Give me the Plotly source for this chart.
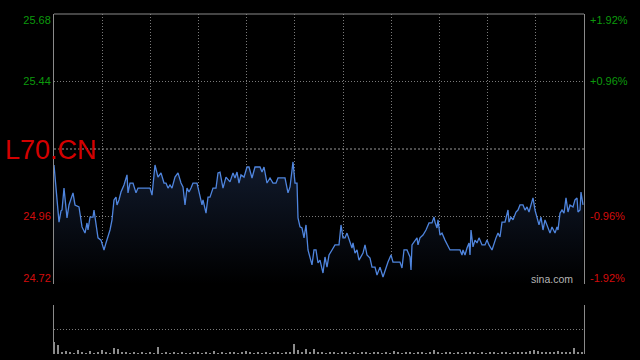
import plotly.graph_objects as go

# ---------------- data ----------------
symbol = "L70.CN"
prev_close = 25.20
session_len = 530          # minutes shown on the time axis
n_divisions = 11

minutes = [0, 5, 7, 8, 10, 13, 15, 19, 21, 25, 28, 31, 33, 34, 36, 39, 40, 42, 44, 47,
           50, 52, 56, 58, 60, 62, 63, 65, 67, 70, 73, 74, 76, 79, 82, 84, 96, 98, 101, 104,
           107, 110, 112, 114, 116, 118, 121, 124, 127, 129, 131, 133, 135, 137, 139, 143, 145, 148, 149, 152,
           154, 156, 159, 162, 164, 166, 169, 172, 176, 179, 181, 183, 185, 187, 190, 193, 195, 198, 201, 206,
           208, 210, 213, 216, 219, 222, 224, 231, 234, 236, 239, 241, 243, 244, 246, 248, 250, 252, 254, 258,
           260, 262, 264, 266, 269, 271, 273, 275, 278, 281, 285, 287, 289, 291, 293, 295, 298, 299, 301, 303,
           305, 309, 311, 313, 316, 318, 321, 323, 326, 329, 332, 334, 337, 339, 346, 348, 350, 353, 356, 357,
           358, 361, 363, 364, 366, 369, 372, 375, 378, 380, 381, 383, 384, 386, 388, 391, 394, 396, 406, 408,
           409, 411, 413, 415, 416, 417, 419, 421, 423, 425, 428, 431, 433, 435, 438, 440, 442, 444, 446, 448,
           451, 454, 455, 457, 459, 462, 464, 466, 469, 471, 473, 475, 477, 479, 481, 483, 485, 487, 489, 491,
           494, 496, 498, 501, 503, 504, 506, 508, 510, 512, 514, 516, 519, 521, 523, 524, 526, 527, 529]

prices = [25.143, 24.940, 24.980, 24.983, 25.061, 24.955, 25.001, 25.044, 25.001, 24.994,
          24.923, 24.901, 24.937, 24.912, 24.958, 24.958, 24.983, 24.940, 24.884, 24.876,
          24.841, 24.866, 24.912, 24.948, 25.019, 25.029, 25.001, 25.019, 25.047, 25.072,
          25.108, 25.044, 25.079, 25.079, 25.044, 25.061, 25.061, 25.036, 25.143, 25.100,
          25.115, 25.079, 25.079, 25.061, 25.072, 25.061, 25.100, 25.115, 25.079, 25.065,
          25.001, 25.061, 25.047, 25.061, 25.079, 25.079, 25.044, 25.001, 25.019, 24.972,
          25.029, 25.029, 25.061, 25.061, 25.115, 25.118, 25.061, 25.100, 25.083, 25.115,
          25.097, 25.118, 25.079, 25.108, 25.100, 25.136, 25.136, 25.097, 25.136, 25.136,
          25.118, 25.136, 25.079, 25.097, 25.079, 25.079, 25.097, 25.097, 25.044, 25.065,
          25.154, 25.079, 25.079, 24.955, 24.923, 24.919, 24.884, 24.930, 24.841, 24.788,
          24.841, 24.841, 24.795, 24.805, 24.759, 24.816, 24.780, 24.823, 24.841, 24.859,
          24.859, 24.930, 24.884, 24.884, 24.901, 24.876, 24.848, 24.866, 24.830, 24.841,
          24.805, 24.830, 24.859, 24.823, 24.812, 24.780, 24.780, 24.752, 24.780, 24.745,
          24.780, 24.798, 24.823, 24.798, 24.798, 24.777, 24.841, 24.841, 24.816, 24.770,
          24.859, 24.876, 24.884, 24.859, 24.884, 24.894, 24.912, 24.937, 24.937, 24.958,
          24.940, 24.919, 24.948, 24.894, 24.901, 24.876, 24.852, 24.841, 24.841, 24.823,
          24.841, 24.823, 24.848, 24.866, 24.823, 24.912, 24.852, 24.876, 24.866, 24.884,
          24.859, 24.859, 24.876, 24.859, 24.841, 24.866, 24.884, 24.901, 24.887, 24.940,
          24.940, 24.983, 24.940, 24.958, 24.948, 24.976, 24.983, 25.001, 25.001, 24.983,
          24.994, 24.976, 25.001, 25.026, 24.983, 24.958, 24.930, 24.958, 24.912, 24.948,
          24.923, 24.901, 24.923, 24.901, 24.923, 24.912, 24.972, 24.983, 24.972, 25.026,
          24.976, 25.001, 24.994, 25.019, 25.026, 24.976, 24.983, 25.047, 25.001]

vol_step = 4
volumes = [24, 18, 4, 7, 3, 2, 8, 3, 2, 6, 2, 3, 9, 3, 2, 12, 10, 5, 3, 2, 4, 2, 3, 2, 3, 2, 14,
           2, 3, 2, 4, 2, 3, 2, 2, 3, 4, 2, 3, 2,
           6,
           2, 3, 2, 4, 3, 2, 3,
           7,
           3, 2, 4, 2, 3, 2, 3, 4, 2, 3, 4,
           20, 9, 5, 11, 3, 11, 4,
           3, 2, 4, 3, 2, 3, 4, 2, 3, 2, 4, 3, 2, 3, 4, 2, 3, 2,
           7,
           3, 2, 4, 3, 2, 3, 4, 2, 3,
           8,
           3, 2, 3, 4, 2, 3, 2, 3, 4, 3, 2, 3, 2, 4, 3, 2,
           5,
           3, 2, 4, 3, 5, 4,
           6, 8, 6, 4,
           5, 3, 4, 6, 5, 4,
           5, 13, 5, 3]
vol_minutes = list(range(0, session_len, vol_step))[:len(volumes)]

left_ticks = [24.72, 24.96, 25.44, 25.68]
left_labels = ["24.72", "24.96", "25.44", "25.68"]
right_labels = ["-1.92%", "-0.96%", "+0.96%", "+1.92%"]
y_range = [24.72, 25.68]

GREEN = "#0c9a0c"
RED = "#d40c0c"
GRID = "#7a7a7a"
FRAME = "#8a8a8a"

# layout geometry (pixels)
W, H = 640, 360
M_L, M_R, M_T, M_B = 54, 56, 14, 6
plot_h = H - M_T - M_B
main_px = 270
vol_px = 49
main_bottom = 1 - main_px / plot_h
vol_top = vol_px / plot_h

# edge labels are drawn just inside the frame (6 px)
px_per_unit = main_px / (y_range[1] - y_range[0])
pad = 6 / px_per_unit
label_pos = [v + pad if v == y_range[0] else (v - pad if v == y_range[1] else v)
             for v in left_ticks]


def colored(labels, vals):
    out = []
    for lab, v in zip(labels, vals):
        c = GREEN if v > prev_close else RED
        out.append(f'<span style="color:{c}">{lab}</span>')
    return out


fig = go.Figure()

fig.add_trace(go.Scatter(
    x=minutes, y=prices, mode="lines",
    line=dict(color="#4f85de", width=1.3),
    fill="tozeroy",
    fillgradient=dict(type="vertical", start=y_range[0], stop=25.16,
                      colorscale=[[0, "#000000"], [1, "#111a2c"]]),
    hoverinfo="skip", xaxis="x", yaxis="y",
))

# invisible companion on the percent axis so it is drawn
fig.add_trace(go.Scatter(
    x=minutes, y=prices, mode="lines", line=dict(width=0, color="rgba(0,0,0,0)"),
    hoverinfo="skip", xaxis="x", yaxis="y3",
))

fig.add_trace(go.Bar(
    x=vol_minutes, y=volumes, width=1.2,
    marker=dict(color="#8c8c8c", line=dict(width=0)),
    hoverinfo="skip", xaxis="x2", yaxis="y2",
))

grid_vals = [session_len * k / n_divisions for k in range(1, n_divisions)]

fig.update_layout(
    width=W, height=H,
    margin=dict(l=M_L, r=M_R, t=M_T, b=M_B, autoexpand=False),
    paper_bgcolor="#000000", plot_bgcolor="#000000",
    showlegend=False,
    font=dict(family="Liberation Sans, Arial, sans-serif", size=11),
    title=dict(text=symbol, font=dict(size=27, color="#d40000",
                                      family="Liberation Sans, Arial, sans-serif"),
               x=5 / W, xanchor="left", xref="container",
               y=1 - 150 / H, yanchor="middle", yref="container"),
    xaxis=dict(domain=[0, 1], range=[0, session_len], anchor="y", automargin=False,
               tickmode="array", tickvals=grid_vals, showticklabels=False, ticks="",
               showgrid=True, gridcolor=GRID, griddash="1px,2px", gridwidth=1,
               zeroline=False, showline=False),
    yaxis=dict(domain=[main_bottom, 1], range=y_range, anchor="x", automargin=False,
               tickmode="array", tickvals=label_pos,
               ticktext=colored(left_labels, left_ticks), ticks="",
               showgrid=False, zeroline=False,
               showline=True, mirror=True, linecolor=FRAME, linewidth=1,
               minor=dict(tickmode="array", tickvals=[24.96, 25.44], showgrid=True,
                          gridcolor=GRID, griddash="1px,2px", gridwidth=1, ticks=""),
               tickfont=dict(size=11)),
    yaxis3=dict(overlaying="y", side="right", range=y_range, anchor="x", automargin=False,
                tickmode="array", tickvals=label_pos,
                ticktext=colored(right_labels, left_ticks), ticks="",
                ticklabelstandoff=5,
                showgrid=False, zeroline=False, showline=False,
                tickfont=dict(size=11)),
    xaxis2=dict(domain=[0, 1], range=[0, session_len], anchor="y2", automargin=False,
                showticklabels=False, ticks="", showgrid=False, zeroline=False,
                showline=False),
    yaxis2=dict(domain=[0, vol_top], range=[0, 100], anchor="x2", automargin=False,
                tickmode="array", tickvals=[50, 100], showticklabels=False, ticks="",
                showgrid=True, gridcolor=GRID, griddash="1px,2px", gridwidth=1,
                zeroline=False, showline=True, mirror=True, linecolor=FRAME, linewidth=1),
    bargap=0,
    shapes=[
        dict(type="line", xref="x domain", yref="y domain", x0=0, x1=1, y0=1, y1=1,
             line=dict(color=FRAME, width=1)),
        dict(type="line", xref="x domain", yref="y", x0=0, x1=1,
             y0=prev_close, y1=prev_close,
             line=dict(color="#9a9a9a", width=1, dash="2px,2px")),
    ],
    annotations=[
        dict(text="sina.com", xref="paper", yref="paper",
             x=(575 - M_L) / (W - M_L - M_R), y=(H - M_B - 279) / plot_h,
             xanchor="right", yanchor="middle",
             showarrow=False, font=dict(size=10.5, color="#b4b4b4")),
    ],
)

fig.write_html(
    "out.html",
    config={"displayModeBar": False},
    post_script="document.body.style.margin='0';document.body.style.background='#000';",
)
